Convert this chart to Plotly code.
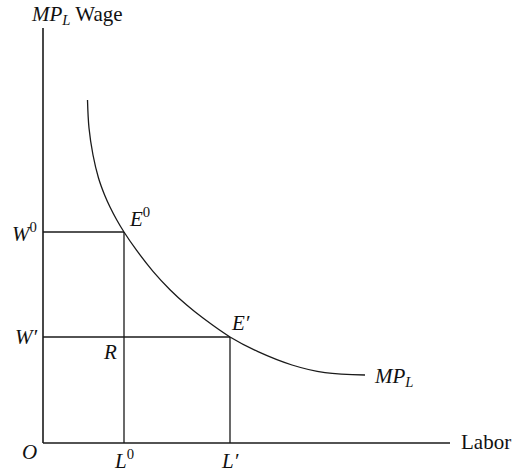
import plotly.graph_objects as go

# Marginal product of labour curve (labour, wage)
mpl_labor = [44.5, 46, 50, 55.5, 61.6, 67, 73.8, 81, 93.5, 110, 127, 144, 160, 187, 215, 249, 282, 322]
mpl_wage = [343, 315, 288, 265, 248, 236, 223, 211, 192.8, 171.7, 153.3, 137.7, 124.9, 106, 91.3, 78, 70.3, 68]

# Equilibrium levels
wage_levels = [211, 106]          # W0, W'
labor_levels = [81, 187]          # L0, L'
axis_x_max = 407
axis_y_max = 415

LINE = "#1a1a1a"
FONT = "Liberation Serif"

fig = go.Figure()

# axes
fig.add_trace(go.Scatter(x=[0, axis_x_max], y=[0, 0], mode="lines",
                         line=dict(color=LINE, width=1.6), hoverinfo="skip"))
fig.add_trace(go.Scatter(x=[0, 0], y=[0, axis_y_max], mode="lines",
                         line=dict(color=LINE, width=1.6), hoverinfo="skip"))

# guide lines
for w, l in zip(wage_levels, labor_levels):
    fig.add_trace(go.Scatter(x=[0, l], y=[w, w], mode="lines",
                             line=dict(color=LINE, width=1.3), hoverinfo="skip"))
    fig.add_trace(go.Scatter(x=[l, l], y=[0, w], mode="lines",
                             line=dict(color=LINE, width=1.3), hoverinfo="skip"))

# MPL curve
fig.add_trace(go.Scatter(x=mpl_labor, y=mpl_wage, mode="lines", line_shape="spline",
                         line=dict(color=LINE, width=1.3, smoothing=1.0), hoverinfo="skip"))

def label(x, y, text, xanchor="center", size=21):
    fig.add_annotation(x=x, y=y, text=text, showarrow=False, xanchor=xanchor,
                       yanchor="middle", borderpad=0,
                       font=dict(family=FONT, size=size, color="#111"))

label(-13, 428, "<i>MP</i><sub><i>L</i></sub> Wage", "left")
label(-5, wage_levels[0], "<i>W</i><sup>0</sup>", "right")
label(-5, wage_levels[1], "<i>W′</i>", "right")
label(85, 226, "<i>E</i><sup>0</sup>", "left")
label(187, 120, "<i>E′</i>", "left")
label(67, 91, "<i>R</i>")
label(-13.5, -9, "<i>O</i>")
label(labor_levels[0], -16.5, "<i>L</i><sup>0</sup>")
label(labor_levels[1], -17.5, "<i>L′</i>")
label(417, 1, "Labor", "left")
label(330, 66, "<i>MP</i><sub><i>L</i></sub>", "left")

fig.update_layout(
    width=515, height=472, autosize=False,
    margin=dict(l=0, r=0, t=0, b=0),
    paper_bgcolor="white", plot_bgcolor="white",
    showlegend=False,
    xaxis=dict(range=[-43, 472], visible=False, fixedrange=True),
    yaxis=dict(range=[-29, 443], visible=False, fixedrange=True),
)

fig.write_html("out.html", config={"displayModeBar": False},
               post_script="document.body.style.margin='0';")
